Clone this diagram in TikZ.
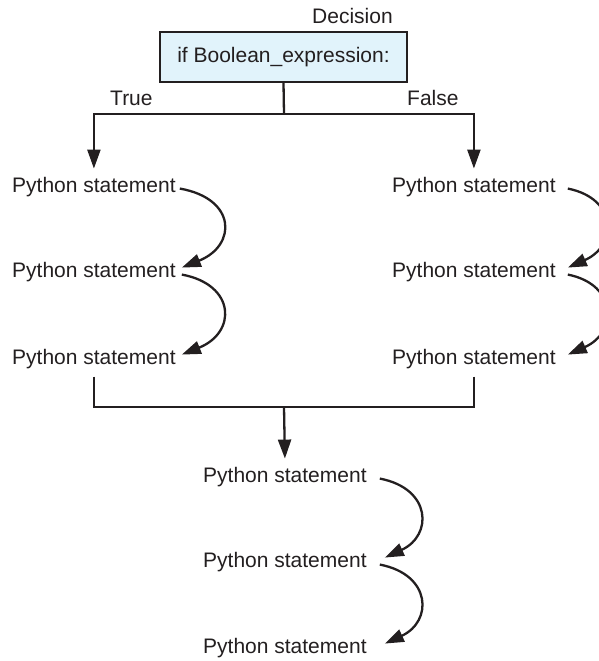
\documentclass[tikz,border=0pt]{standalone}
\usepackage{fontspec}
\setmainfont{Liberation Sans}
\usetikzlibrary{arrows.meta}
\definecolor{ink}{HTML}{231F20}
\definecolor{boxfill}{HTML}{E1F3FB}
\begin{document}
\begin{tikzpicture}[x=1pt,y=-1pt,
  every node/.style={font=\fontsize{21}{25}\selectfont, text=ink},
  stmt/.style={anchor=base west, inner xsep=0pt, inner ysep=8pt},
  lbl/.style={anchor=base west, inner sep=0pt},
  decbox/.style={draw=ink, line width=1.2pt, fill=boxfill, minimum width=247pt, minimum height=50pt, inner sep=0pt},
  line/.style={draw=ink, line width=2.3pt},
  arr/.style={line, -{Triangle[length=19pt,width=13pt]}},
  flow/.style={line, -{Triangle[length=19pt,width=13pt]}}]
\useasboundingbox (0,0) rectangle (599,661);

% decision box and its labels
\node[decbox] (dec) at (283.5,57) {if Boolean\_expression:};
\node[lbl] (declbl) at (312,24) {Decision};
\node[lbl] (tlbl) at (110,105) {True};
\node[lbl] (flbl) at (407,105) {False};

% statements of the True branch
\node[stmt] (l1) at (12,192) {Python statement};
\node[stmt] (l2) at (12,277) {Python statement};
\node[stmt] (l3) at (12,364) {Python statement};
% statements of the False branch
\node[stmt] (r1) at (392,192) {Python statement};
\node[stmt] (r2) at (392,277) {Python statement};
\node[stmt] (r3) at (392,364) {Python statement};
% statements after the if
\node[stmt] (b1) at (203,482) {Python statement};
\node[stmt] (b2) at (203,567) {Python statement};
\node[stmt] (b3) at (203,653) {Python statement};

% branching and joining lines
\coordinate (tj) at (284,114);
\coordinate (bj) at (284,407);
\draw[line] (dec.south) -- (tj);
\draw[arr] (tj) -| (l1.north);
\draw[arr] (tj) -| (r1.north);
\draw[line] (l3.south) |- (bj);
\draw[line] (r3.south) |- (bj);
\draw[arr] (bj) -- (b1.north);

% sequential flow between statements
\draw[flow] ([xshift=4pt,yshift=-2pt]l1.east) .. controls +(57,10) and +(55,-22) .. ([xshift=6pt,yshift=4pt]l2.east);
\draw[flow] ([xshift=6pt,yshift=-3pt]l2.east) .. controls +(54,10) and +(55,-22) .. ([xshift=6pt,yshift=4pt]l3.east);
\draw[flow] ([xshift=12pt,yshift=-2pt]r1.east) .. controls +(50,10) and +(50,-22) .. ([xshift=12pt,yshift=4pt]r2.east);
\draw[flow] ([xshift=12pt,yshift=-3pt]r2.east) .. controls +(50,10) and +(50,-22) .. ([xshift=12pt,yshift=4pt]r3.east);
\draw[flow] ([xshift=13pt,yshift=-2pt]b1.east) .. controls +(52,10) and +(48,-22) .. ([xshift=18pt,yshift=4pt]b2.east);
\draw[flow] ([xshift=13pt,yshift=-3pt]b2.east) .. controls +(52,10) and +(48,-22) .. ([xshift=18pt,yshift=4pt]b3.east);
\end{tikzpicture}
\end{document}
